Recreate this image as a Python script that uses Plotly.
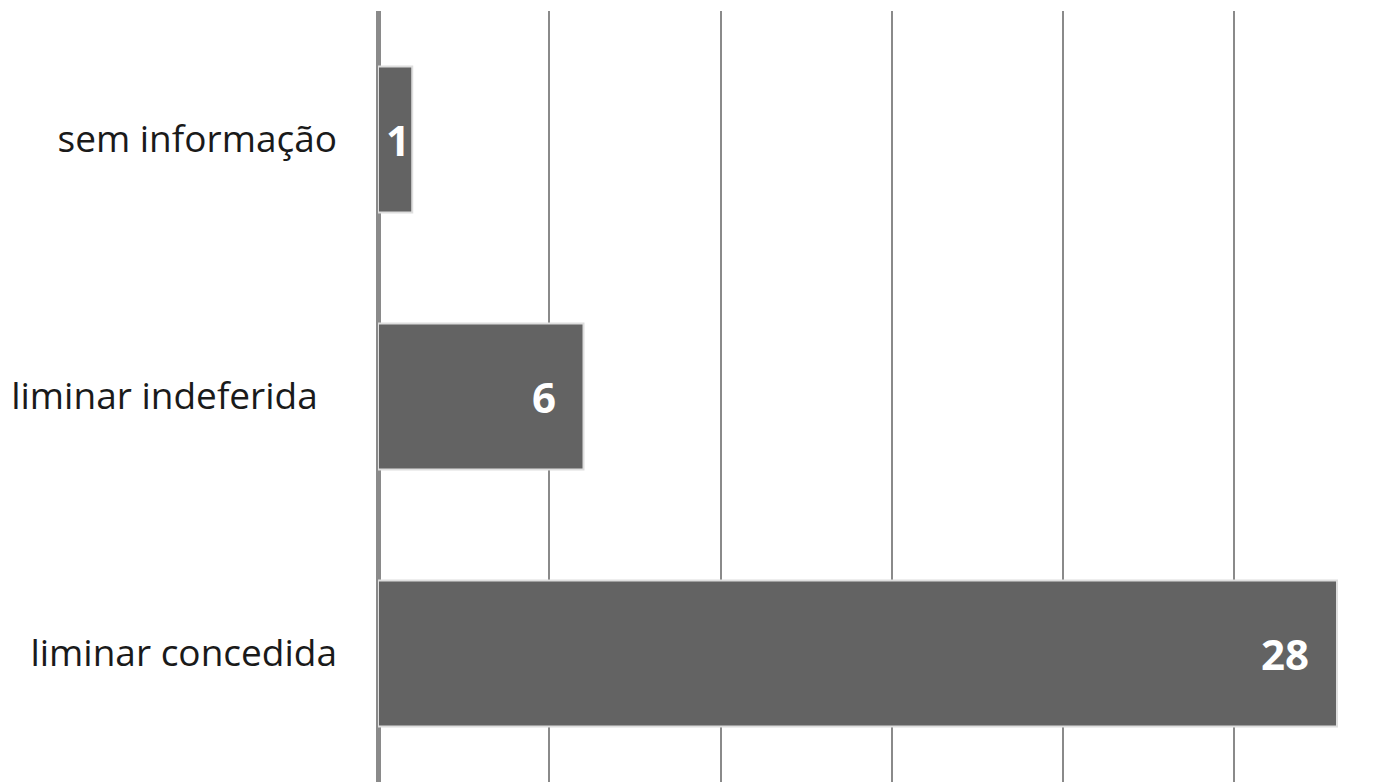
import plotly.graph_objects as go

categories = ["sem informação", "liminar indeferida\u00a0\u00a0", "liminar concedida"]
values = [1, 6, 28]
x_ticks = [0, 5, 10, 15, 20, 25]

BAR = "#636363"
GRID = "#8a8a8a"

left = 370
plot_w = 1388 - left
scale = 34.25
x_max = plot_w / scale

fig = go.Figure()
fig.add_trace(go.Bar(
    y=categories, x=values, orientation="h",
    marker=dict(color=BAR, line=dict(color="#dedede", width=2)),
    hoverinfo="skip",
))

for c, v in zip(categories, values):
    if v * scale > 70:
        fig.add_annotation(x=v, y=c, text=str(v), showarrow=False, xanchor="right",
                           xshift=-26, font=dict(family="Open Sans", size=42, color="white", weight="bold"))
    else:
        fig.add_annotation(x=v / 2, y=c, text=str(v), showarrow=False, xanchor="center",
                           xshift=3, font=dict(family="Open Sans", size=42, color="white", weight="bold"))

fig.update_layout(
    width=1388, height=774,
    margin=dict(l=left, r=0, t=3, b=0),
    paper_bgcolor="white", plot_bgcolor="white",
    bargap=0.432, showlegend=False,
    xaxis=dict(range=[0, x_max], tickvals=x_ticks, showticklabels=False,
               showgrid=True, gridcolor=GRID, gridwidth=2,
               zeroline=True, zerolinecolor=GRID, zerolinewidth=5, fixedrange=True),
    yaxis=dict(autorange="reversed", showgrid=False, zeroline=False, ticks="",
               ticklabelstandoff=40,
               tickfont=dict(family="Open Sans", size=37, color="#1a1a1a")),
)

fig.write_html("out.html")
